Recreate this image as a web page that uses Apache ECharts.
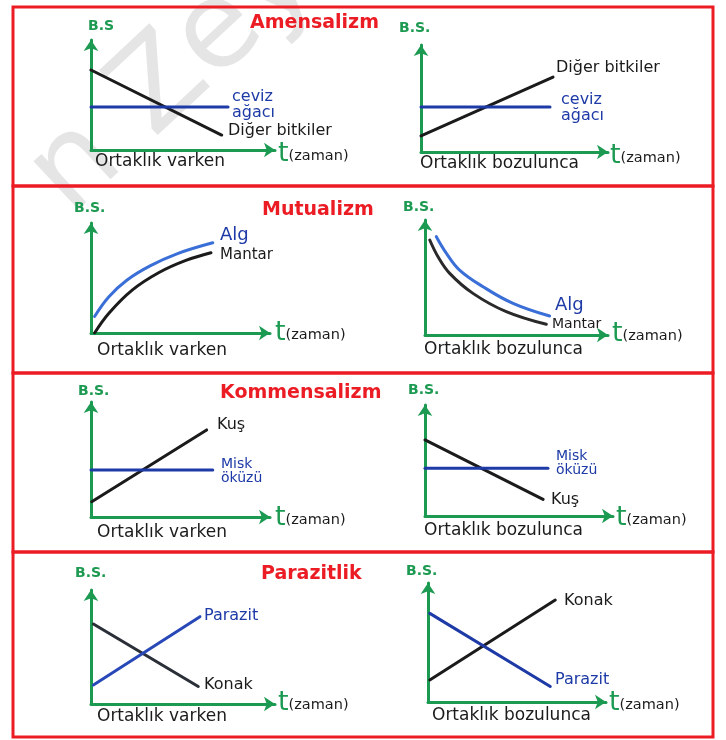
<!DOCTYPE html>
<html><head><meta charset="utf-8">
<script src="https://cdn.jsdelivr.net/npm/echarts@6/dist/echarts.min.js"></script>
<style>html,body{margin:0;padding:0;background:#fff}#c{width:726px;height:740px}</style>
</head><body><div id="c"></div>
<script>
// Panel titles and labels
const titles = ["Amensalizm", "Mutualizm", "Kommensalizm", "Parazitlik"];
const captions = ["Ortaklık varken", "Ortaklık bozulunca"];

// Series data per panel ([t, B.S.] in 0-10 units)
const p1_diger = [[0, 7.27], [7.1, 1.36]];
const p1_ceviz = [[0, 3.9], [7.45, 3.9]];
const p2_diger = [[0, 1.5], [7.06, 7.0]];
const p2_ceviz = [[0, 4.2], [6.9, 4.2]];
const p3_alg = [[0.2, 1.5], [1.0, 3.3], [2.0, 4.8], [3.3, 6.1], [4.8, 7.2], [6.8, 8.2]];
const p3_mantar = [[0.2, 0], [1.0, 1.8], [2.3, 3.9], [3.8, 5.5], [5.3, 6.6], [6.7, 7.3]];
const p4_alg = [[0.62, 8.55], [1.17, 7.1], [1.89, 5.65], [3.17, 4.2], [4.81, 2.75], [6.81, 1.65]];
const p4_mantar = [[0.26, 8.26], [0.71, 6.81], [1.35, 5.36], [2.62, 3.62], [4.44, 2.03], [6.63, 0.93]];
const p5_kus = [[0.04, 1.33], [6.46, 7.57]];
const p5_misk = [[0, 4.09], [6.8, 4.09]];
const p6_kus = [[0, 6.85], [6.28, 1.5]];
const p6_misk = [[0, 4.3], [6.54, 4.3]];
const p7_konak = [[0.13, 7.02], [5.83, 1.54]];
const p7_parazit = [[0.13, 1.67], [5.92, 7.66]];
const p8_konak = [[0.1, 1.85], [7.15, 8.57]];
const p8_parazit = [[0.1, 7.45], [6.87, 1.3]];

const GREEN = '#1c9a52', RED = '#ec1c24', BLACK = '#1b1b1b', NAVY = '#1d3aa6', BLUE = '#3a6fd8';
const FONT = 'DejaVu Sans';

const grids = [
  {left: 91, top: 40, width: 184, height: 110},
  {left: 421, top: 45, width: 187, height: 107},
  {left: 91, top: 223, width: 179, height: 110},
  {left: 425, top: 220, width: 183, height: 115},
  {left: 91, top: 402, width: 179, height: 115},
  {left: 425, top: 405, width: 188, height: 111},
  {left: 91, top: 590, width: 184, height: 114},
  {left: 428, top: 583, width: 178, height: 119}
];

const panelSeries = [
  [[p1_diger, BLACK], [p1_ceviz, NAVY]],
  [[p2_diger, BLACK], [p2_ceviz, NAVY]],
  [[p3_mantar, BLACK, true], [p3_alg, BLUE, true]],
  [[p4_mantar, '#2a2a2a', true], [p4_alg, BLUE, true]],
  [[p5_kus, BLACK], [p5_misk, NAVY]],
  [[p6_kus, BLACK], [p6_misk, NAVY]],
  [[p7_konak, '#2a2f38'], [p7_parazit, '#2848b8']],
  [[p8_konak, BLACK], [p8_parazit, NAVY]]
];

const axisLine = {show: true, onZero: false, symbol: ['none', 'arrow'], symbolSize: [11, 11],
  lineStyle: {color: GREEN, width: 3}};
const xAxis = [], yAxis = [], series = [];
grids.forEach((g, i) => {
  xAxis.push({type: 'value', gridIndex: i, min: 0, max: 10, axisLine, axisTick: {show: false},
    axisLabel: {show: false}, splitLine: {show: false}});
  yAxis.push({type: 'value', gridIndex: i, min: 0, max: 10, axisLine, axisTick: {show: false},
    axisLabel: {show: false}, splitLine: {show: false}});
  panelSeries[i].forEach(([d, c, sm]) => {
    series.push({type: 'line', xAxisIndex: i, yAxisIndex: i, data: d, smooth: sm ? 0.4 : false,
      symbol: 'none', lineStyle: {color: c, width: 3, cap: 'round'}, silent: true, animation: false});
  });
});

const graphic = [];
function txt(x, y, style) {
  graphic.push({type: 'text', left: x, top: y, silent: true, style: Object.assign({fontFamily: FONT}, style)});
}
// watermark
graphic.push({type: 'text', x: 8, y: 150, rotation: 0.75, silent: true, z: -1,
  style: {text: 'n Zey', fontSize: 120, fill: 'rgba(160,160,160,0.28)', fontFamily: FONT}});
// boxes
[[7, 186], [186, 373], [373, 552], [552, 737]].forEach(([a, b]) => {
  graphic.push({type: 'rect', silent: true, shape: {x: 13, y: a, width: 700, height: b - a},
    style: {fill: 'none', stroke: RED, lineWidth: 3}});
});
// titles
const T = {fontSize: 19, fill: RED, fontWeight: 'bold'};
txt(250, 14, Object.assign({text: titles[0], letterSpacing: 1.6}, T));
txt(262, 201, Object.assign({text: titles[1], letterSpacing: 1.8}, T));
txt(220, 384, Object.assign({text: titles[2], letterSpacing: 0.6}, T));
txt(261, 565, Object.assign({text: titles[3], letterSpacing: 2.2}, T));
// B.S. labels
[[88, 19, 'B.S'], [399, 21, 'B.S.'], [74, 201, 'B.S.'], [403, 200, 'B.S.'], [78, 384, 'B.S.'], [408, 383, 'B.S.'], [75, 566, 'B.S.'], [406, 564, 'B.S.']]
  .forEach(([x, y, s]) => txt(x, y, {text: s, fontSize: 14, fill: GREEN, fontWeight: 'bold'}));
// t(zaman)
[[278, 140], [610, 142], [275, 319], [612, 320], [275, 504], [616, 504], [278, 689], [609, 689]].forEach(([x, y]) => {
  graphic.push({type: 'text', left: x, top: y, silent: true,
    style: {text: '{t|t}{z|(zaman)}', rich: {t: {fontSize: 27, fill: GREEN, fontFamily: FONT, verticalAlign: 'bottom'},
      z: {fontSize: 14.5, fill: BLACK, fontFamily: FONT, verticalAlign: 'bottom', padding: [0, 0, 3, 0]}}}});
});
// captions
[[95, 153, 0], [420, 155, 1], [97, 342, 0], [424, 341, 1], [97, 524, 0], [424, 522, 1], [97, 708, 0], [432, 707, 1]]
  .forEach(([x, y, k]) => txt(x, y, {text: captions[k], fontSize: 17, fill: BLACK, letterSpacing: k ? 1.6 : 2.4}));
// series labels
const lab = (x, y, s, c, size, ls) => txt(x, y, {text: s, fontSize: size, fill: c, lineHeight: size, letterSpacing: ls || 0});
lab(232, 89, 'ceviz\nağacı', NAVY, 16, 2);
lab(228, 123, 'Diğer bitkiler', BLACK, 16, 0.3);
lab(556, 60, 'Diğer bitkiler', BLACK, 16, 0.3);
lab(561, 92, 'ceviz\nağacı', NAVY, 16, 1.5);
lab(220, 226, 'Alg', NAVY, 18);
lab(220, 248, 'Mantar', BLACK, 15, 1);
lab(555, 296, 'Alg', NAVY, 18);
lab(552, 317, 'Mantar', BLACK, 14);
lab(217, 417, 'Kuş', BLACK, 16);
lab(221, 457, 'Misk\nöküzü', NAVY, 14);
lab(556, 449, 'Misk\nöküzü', NAVY, 14);
lab(551, 492, 'Kuş', BLACK, 16);
lab(204, 608, 'Parazit', NAVY, 16, 0.8);
lab(204, 677, 'Konak', BLACK, 16, 0.8);
lab(564, 593, 'Konak', BLACK, 16, 1);
lab(555, 672, 'Parazit', NAVY, 16, 0.5);

const chart = echarts.init(document.getElementById('c'), null, {renderer: 'canvas'});
chart.setOption({animation: false, backgroundColor: '#fff', grid: grids.map(g => Object.assign({containLabel: false}, g)),
  xAxis, yAxis, series, graphic});
</script></body></html>
